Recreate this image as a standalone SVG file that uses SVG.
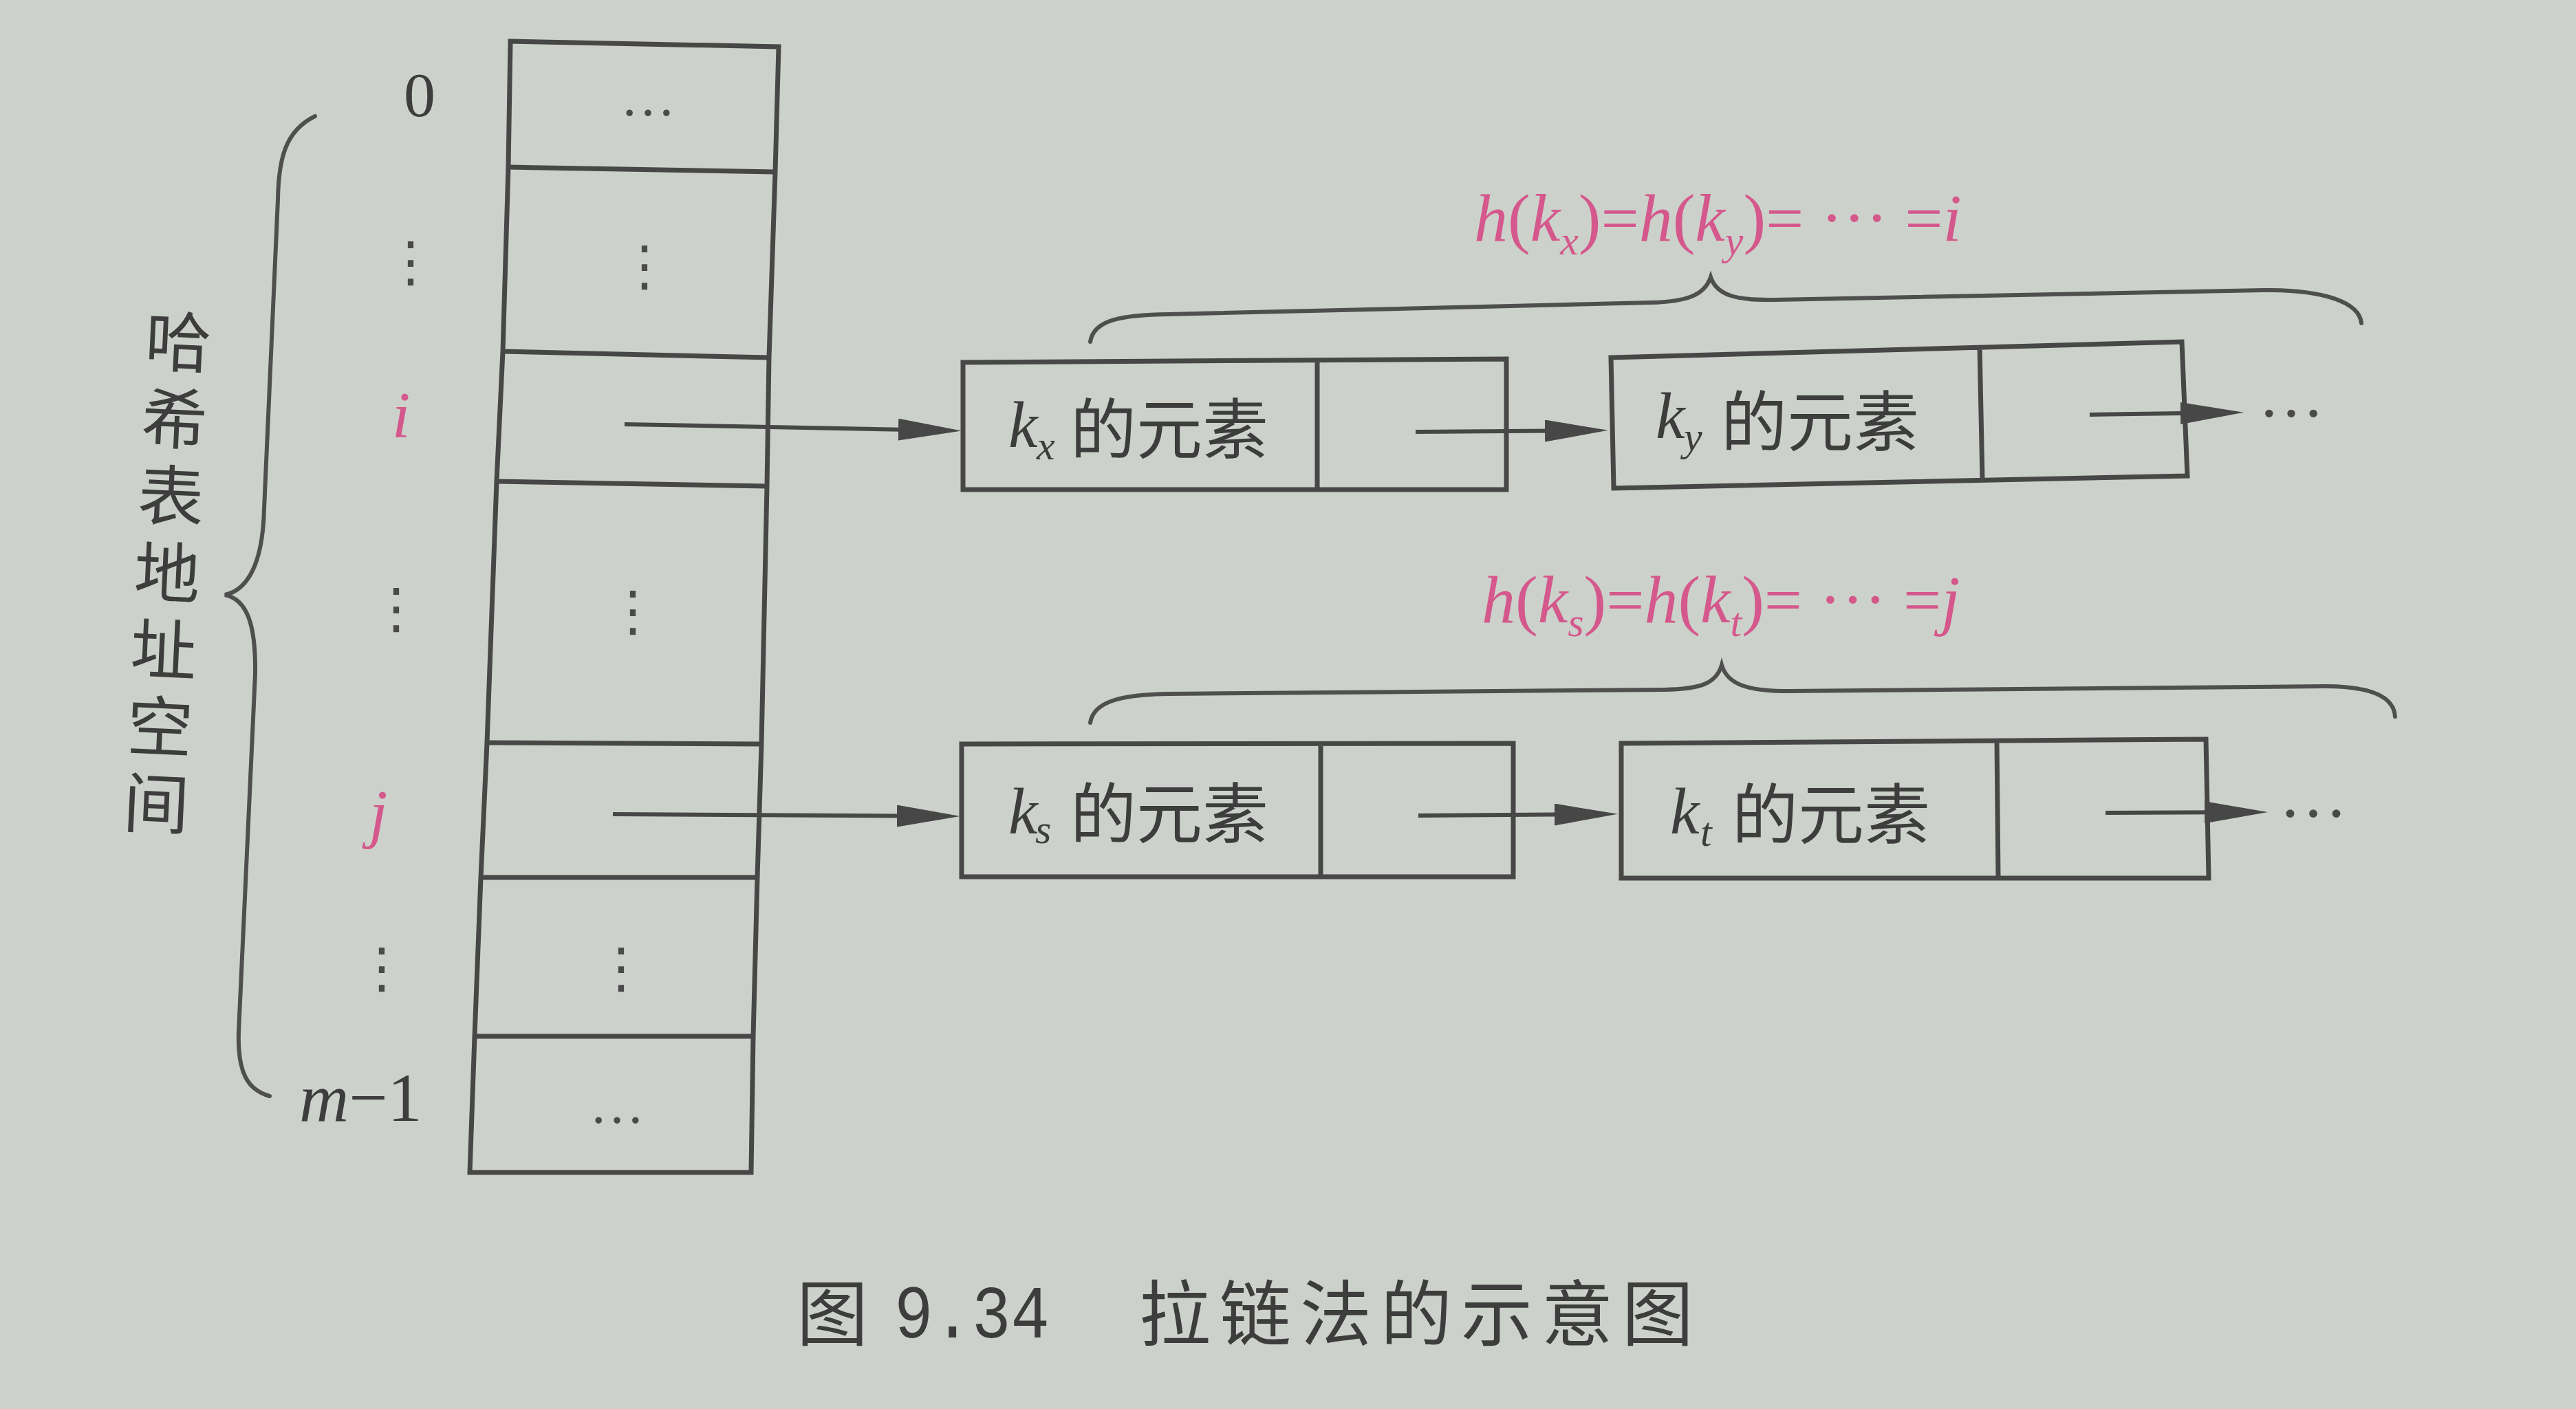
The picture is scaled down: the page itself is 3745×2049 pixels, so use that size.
<svg xmlns="http://www.w3.org/2000/svg" width="3745" height="2049" viewBox="0 0 3745 2049">
<style>
.ln{stroke:#474747;stroke-width:7;fill:none;stroke-linejoin:miter}
.br{stroke:#4f4f4f;stroke-width:6;fill:none;stroke-linecap:round}
.ar{stroke:#474747;stroke-width:6;fill:none;marker-end:url(#ah)}
.serif{font-family:"Liberation Serif","DejaVu Serif",serif;fill:#3d3d3d}
.it{font-style:italic}
.cn{font-family:"Noto Sans CJK SC","Noto Sans CJK JP",sans-serif;fill:#3d3d3d}
.pk{fill:#d4588c}
.dots{font-family:"DejaVu Sans",sans-serif;fill:#4a4a4a;text-anchor:middle}
.ell{font-family:"Liberation Serif",serif;fill:#4a4a4a;text-anchor:middle}
</style>
<defs>
<marker id="ah" markerUnits="userSpaceOnUse" viewBox="0 0 92 32" refX="72" refY="16" markerWidth="92" markerHeight="32" orient="auto">
<path d="M0,0 L92,16 L0,32 Z" fill="#474747"/>
</marker>
</defs>
<rect x="0" y="0" width="3745" height="2049" fill="#cdd1cb"/>

<g id="address-space-label">
<path class="br" d="M458 169 C415 190 405 230 404 290 L384 740 C382 820 360 858 327 865 C360 872 372 910 371 980 L347 1500 C345 1560 360 1585 392 1594"/>
<text class="cn" font-size="96" writing-mode="vertical-rl" letter-spacing="16" x="243" y="448" transform="rotate(2.7 243 838)">哈希表地址空间</text>
</g>

<g id="index-labels">
<text class="serif" font-size="92" text-anchor="middle" x="610" y="169">0</text>
<text class="dots" font-size="80" x="597" y="408">⋮</text>
<text class="serif it pk" font-size="96" text-anchor="middle" x="583" y="636">i</text>
<text class="dots" font-size="80" x="576" y="912">⋮</text>
<text class="serif it pk" font-size="96" text-anchor="middle" x="550" y="1215">j</text>
<text class="dots" font-size="80" x="555" y="1435">⋮</text>
<text class="serif" font-size="100" x="435" y="1630"><tspan class="it">m</tspan>−1</text>
</g>

<g id="hash-table">
<path class="ln" d="M742 60 L1132 68 L1127 250 L1118 520 L1115 707 L1107 1082 L1101 1276 L1095 1507 L1092 1705 L683 1705 L690 1507 L699 1276 L708 1080 L722 700 L731 511 L739 243 Z"/>
<g id="slot-0"><text class="ell" font-size="80" x="942" y="168">…</text></g>
<g id="slot-1"><line class="ln" x1="739" y1="243" x2="1127" y2="250"/><text class="dots" font-size="80" x="937" y="414">⋮</text></g>
<g id="slot-i"><line class="ln" x1="731" y1="511" x2="1118" y2="520"/></g>
<g id="slot-3"><line class="ln" x1="722" y1="700" x2="1115" y2="707"/><text class="dots" font-size="80" x="920" y="916">⋮</text></g>
<g id="slot-j"><line class="ln" x1="708" y1="1080" x2="1107" y2="1082"/></g>
<g id="slot-5"><line class="ln" x1="699" y1="1276" x2="1101" y2="1276"/><text class="dots" font-size="80" x="903" y="1435">⋮</text></g>
<g id="slot-m1"><line class="ln" x1="690" y1="1507" x2="1095" y2="1507"/><text class="ell" font-size="80" x="897" y="1633">…</text></g>
</g>

<g id="node-kx">
<path class="ln" d="M1400 527 L2190 522 L2190 712 L1400 712 Z M1915 524 L1915 712"/>
<text class="serif it" font-size="96" x="1466" y="650">k</text>
<text class="serif it" font-size="60" x="1507" y="668">x</text>
<text class="cn" font-size="96" x="1556" y="659">的元素</text>
</g>
<g id="node-ky">
<path class="ln" d="M2342 520 L3172 497 L3180 692 L2346 710 Z M2878 503 L2882 697"/>
<text class="serif it" font-size="96" x="2407" y="637">k</text>
<text class="serif it" font-size="60" x="2448" y="655">y</text>
<text class="cn" font-size="96" x="2502" y="648">的元素</text>
</g>
<g id="node-ks">
<path class="ln" d="M1398 1082 L2200 1081 L2200 1275 L1398 1275 Z M1920 1082 L1920 1275"/>
<text class="serif it" font-size="96" x="1466" y="1212">k</text>
<text class="serif it" font-size="60" x="1505" y="1226">s</text>
<text class="cn" font-size="96" x="1556" y="1218">的元素</text>
</g>
<g id="node-kt">
<path class="ln" d="M2357 1081 L3207 1075 L3211 1277 L2357 1277 Z M2903 1078 L2905 1277"/>
<text class="serif it" font-size="96" x="2428" y="1212">k</text>
<text class="serif it" font-size="60" x="2472" y="1230">t</text>
<text class="cn" font-size="96" x="2518" y="1219">的元素</text>
</g>
<g id="tail-i"><text class="ell" font-size="96" x="3331" y="606">…</text></g>
<g id="tail-j"><text class="ell" font-size="100" x="3363" y="1188">…</text></g>

<g id="chain-i-label">
<path class="br" d="M1585 497 C1590 465 1630 458 1700 457 L2400 440 C2450 439 2478 430 2487 403 C2496 430 2525 437 2580 436 L3290 422 C3380 421 3430 440 3433 470"/>
<text class="serif pk" font-size="98" x="2143" y="350"><tspan class="it">h</tspan>(<tspan class="it">k</tspan><tspan class="it" font-size="60" dy="20">x</tspan><tspan dy="-20">)=</tspan><tspan class="it">h</tspan>(<tspan class="it">k</tspan><tspan class="it" font-size="60" dy="20">y</tspan><tspan dy="-20">)= ··· =</tspan><tspan class="it">i</tspan></text>
</g>
<g id="chain-j-label">
<path class="br" d="M1585 1051 C1590 1020 1630 1010 1700 1009 L2420 1003 C2470 1002 2495 995 2503 967 C2511 995 2540 1005 2600 1005 L3380 998 C3440 998 3480 1010 3482 1042"/>
<text class="serif pk" font-size="98" x="2154" y="905"><tspan class="it">h</tspan>(<tspan class="it">k</tspan><tspan class="it" font-size="60" dy="20">s</tspan><tspan dy="-20">)=</tspan><tspan class="it">h</tspan>(<tspan class="it">k</tspan><tspan class="it" font-size="60" dy="20">t</tspan><tspan dy="-20">)= ··· =</tspan><tspan class="it">j</tspan></text>
</g>

<g id="connectors">
<path class="ar" d="M908 617 L1378 626"/>
<path class="ar" d="M2058 628 L2318 626"/>
<path class="ar" d="M3038 603 L3242 600"/>
<path class="ar" d="M891 1184 L1376 1187"/>
<path class="ar" d="M2062 1186 L2332 1184"/>
<path class="ar" d="M3061 1182 L3277 1181"/>
</g>

<g id="caption">
<text class="cn" font-size="104" x="1158" y="1949">图</text>
<text font-family="Liberation Mono, monospace" fill="#3d3d3d" font-size="110" x="1300" y="1945" textLength="226" lengthAdjust="spacingAndGlyphs">9.34</text>
<text class="cn" font-size="104" x="1656" y="1949" letter-spacing="13">拉链法的示意图</text>
</g>
</svg>
